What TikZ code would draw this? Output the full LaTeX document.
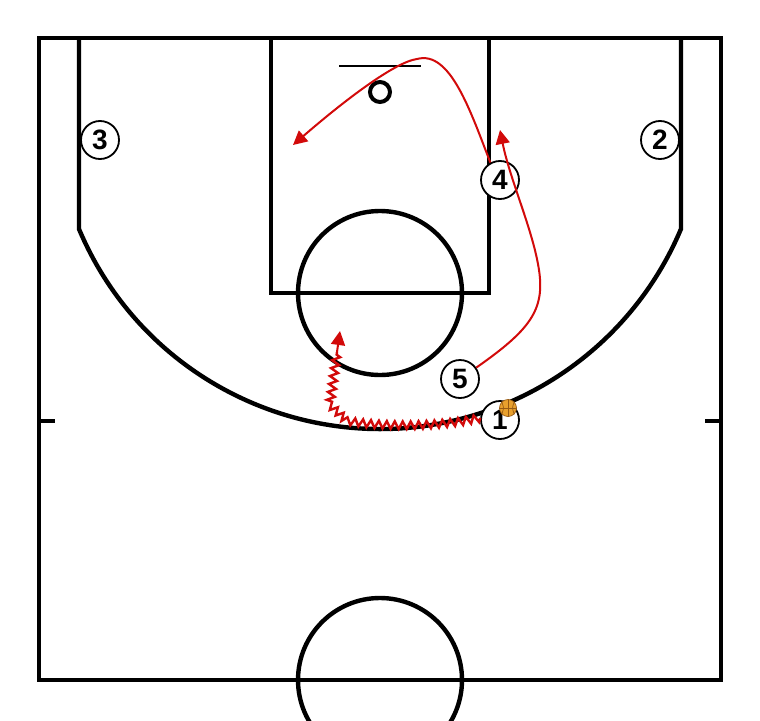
\documentclass[tikz,border=0pt]{standalone}
\usepackage{fontspec}
\setmainfont{Liberation Sans}
\usetikzlibrary{arrows.meta,decorations.pathmorphing}
\definecolor{playred}{RGB}{210,10,10}
\definecolor{ballorange}{RGB}{232,160,45}
\definecolor{ballseam}{RGB}{150,90,20}
\begin{document}
\begin{tikzpicture}[x=1pt,y=-1pt,
  courtline/.style={line width=4.4pt,black},
  player/.style={circle,draw=black,line width=1.8pt,fill=white,minimum size=38pt,inner sep=0pt,font=\fontsize{28}{28}\selectfont\bfseries},
  cutpath/.style={playred,line width=2pt,-{Triangle[length=14pt,width=14pt]}},
  dribble/.style={playred,line width=2.4pt,decorate,decoration={zigzag,amplitude=3.8pt,segment length=8pt}}
]
\useasboundingbox (0,0) rectangle (760,720);
% court
\draw[courtline] (39,38) rectangle (721,680);
\draw[courtline] (79,38) -- (79,229) arc[start angle=157.2,end angle=22.8,radius=326.5] -- (681,38);
\draw[courtline] (271,38) rectangle (489,293);
\draw[courtline] (380,293) circle[radius=82];
\draw[courtline] (380,680) circle[radius=82];
\draw[courtline] (39,421) -- (55,421);
\draw[courtline] (705,421) -- (721,421);
\draw[line width=2.2pt] (339,66) -- (421,66);
\draw[line width=4pt] (380,92) circle[radius=10];
% players
\node[player] (p3) at (100,140) {3};
\node[player] (p2) at (660,140) {2};
\node[player] (p4) at (500,180) {4};
\node[player] (p5) at (460,379) {5};
\node[player] (p1) at (500,420) {1};
% movement
\coordinate (c4end) at (293,145);
\coordinate (c5end) at (500,130);
\coordinate (dcorner) at (347,421);
\coordinate (dup) at (337,352);
\coordinate (dend) at (340,331);
\draw[cutpath] (p4.119) .. controls (470,110) and (450,50) .. (417,59) .. controls (395,62) and (345,100) .. (c4end);
\draw[cutpath] (p5.35) .. controls (530,330) and (545,310) .. (539,270) .. controls (533,230) and (510,180) .. (c5end);
\draw[dribble] (p1.174) .. controls (445,426) and (390,428) .. (dcorner) -- (330,405) -- (dup);
\draw[cutpath] (dup) -- (dend);
% ball
\node[circle,fill=ballorange,draw=ballseam,line width=0.7pt,minimum size=17pt,inner sep=0pt] (ball) at (508,408) {};
\draw[ballseam,line width=0.7pt] (ball.west) -- (ball.east);
\draw[ballseam,line width=0.7pt] (ball.north) -- (ball.south);
\draw[ballseam,line width=0.7pt] (ball.north west) .. controls (504,408) .. (ball.south west);
\draw[ballseam,line width=0.7pt] (ball.north east) .. controls (512,408) .. (ball.south east);
\end{tikzpicture}
\end{document}
